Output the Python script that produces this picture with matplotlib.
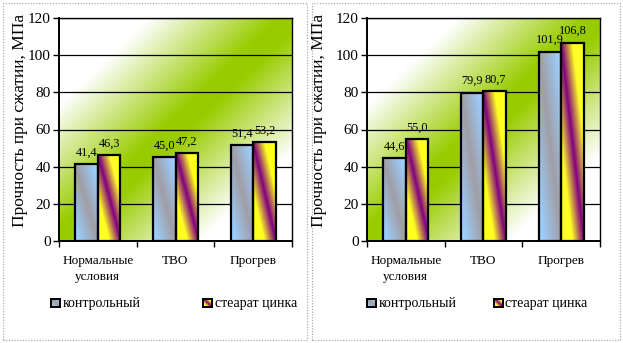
import numpy as np
import matplotlib
matplotlib.use("Agg")
import matplotlib.pyplot as plt
import matplotlib.patches as mpatches
from matplotlib.colors import to_rgb

plt.rcParams['font.family'] = ['Liberation Serif', 'DejaVu Serif']

categories = ['Нормальные\nусловия', 'ТВО', 'Прогрев']
series_names = ['контрольный', 'стеарат цинка']
left_control = [41.4, 45.0, 51.4]
left_stearate = [46.3, 47.2, 53.2]
right_control = [44.6, 79.9, 101.9]
right_stearate = [55.0, 80.7, 106.8]
y_ticks = [0, 20, 40, 60, 80, 100, 120]
y_label = 'Прочность при сжатии, МПа'

GREEN = np.array(to_rgb('#99cc00'))
WHITE = np.array([1.0, 1.0, 1.0])
GRAY = np.array(to_rgb('#a09ea6'))
LBLUE = np.array(to_rgb('#9ccfff'))
PURPLE = np.array(to_rgb('#800080'))
YELLOW = np.array(to_rgb('#ffff20'))


def background_img(n=200):
    xx, yy = np.meshgrid(np.linspace(0, 1, n), np.linspace(0, 1, n))
    d = np.abs(xx - yy)
    t = np.clip((d - 0.06) / 0.55, 0, 1)[..., None]
    return GREEN * (1 - t) + WHITE * t


def bar_img(c_mid, c_side, spread, n=100):
    xx, yy = np.meshgrid(np.linspace(0, 1, n), np.linspace(0, 1, n))
    # band runs from the top-left corner to the bottom-right corner
    d = np.abs(xx + yy - 1)
    t = np.clip(d / spread, 0, 1)[..., None]
    return c_mid * (1 - t) + c_side * t


def fmt(v):
    return f'{v:.1f}'.replace('.', ',')


def draw_panel(ax, control, stearate):
    ax.imshow(background_img(), extent=(0, 1, 0, 1), origin='lower',
              transform=ax.transAxes, aspect='auto', zorder=0,
              interpolation='bilinear')
    x = np.arange(len(categories))
    w = 0.29
    for vals, off, cols in [(control, -w / 2, (GRAY, LBLUE, 0.85)),
                            (stearate, w / 2, (PURPLE, YELLOW, 0.5))]:
        bars = ax.bar(x + off, vals, w, facecolor='none', edgecolor='black',
                      linewidth=1.6, zorder=3)
        for b, v in zip(bars, vals):
            x0, y0 = b.get_x(), b.get_y()
            im = ax.imshow(bar_img(*cols), origin='lower', aspect='auto',
                           extent=(x0, x0 + b.get_width(), y0, y0 + b.get_height()),
                           zorder=2, interpolation='bilinear')
            im.set_clip_path(b)
            ax.annotate(fmt(v), (x0 + b.get_width() / 2, v), xytext=(0, 4),
                        textcoords='offset points', ha='center', va='bottom',
                        fontsize=8.8, zorder=4)
    ax.set_xlim(-0.5, len(categories) - 0.5)
    ax.set_ylim(0, 120)
    ax.set_yticks(y_ticks)
    for yv in y_ticks[1:]:
        ax.axhline(yv, color='black', linewidth=0.9, zorder=1)
    ax.set_xticks(x)
    ax.set_xticklabels(categories, fontsize=9.5, linespacing=1.5)
    ax.tick_params(axis='x', length=0, pad=10)
    ax.set_xticks(np.arange(len(categories) + 1) - 0.5, minor=True)
    ax.tick_params(axis='x', which='minor', length=4, width=1, direction='out')
    ax.tick_params(axis='y', length=4, width=1, labelsize=11, pad=2)
    for s in ax.spines.values():
        s.set_color('black')
        s.set_linewidth(1.0)
    ax.spines['left'].set_linewidth(1.4)
    ax.spines['bottom'].set_linewidth(1.4)


W, H = 623, 343
fig = plt.figure(figsize=(W / 100, H / 100), dpi=100)

panels = [
    (59, left_control, left_stearate, 3, 307, 20, [(51, 63), (203, 215)]),
    (367, right_control, right_stearate, 312, 620, 319, [(367, 379), (494, 505)]),
]

for px0, ctrl, stear, bx0, bx1, lx, leg in panels:
    ax = fig.add_axes([px0 / W, (H - 241) / H, 233 / W, 223 / H])
    draw_panel(ax, ctrl, stear)
    fig.text(lx / W, (H - 120) / H, y_label, rotation=90,
             ha='center', va='center', fontsize=12.5)
    fig.patches.append(mpatches.Rectangle(
        (bx0 / W, 3 / H), (bx1 - bx0) / W, (H - 6) / H, transform=fig.transFigure,
        fill=False, edgecolor='#a0a0a0', linestyle=(0, (1, 1.5)), linewidth=0.8))
    for (mx, tx), name, cols in zip(leg, series_names,
                                    [(GRAY, LBLUE, 0.85), (PURPLE, YELLOW, 0.5)]):
        max_ = fig.add_axes([mx / W, (H - 307) / H, 9 / W, 8.5 / H])
        max_.imshow(bar_img(*cols, n=20), origin='lower', aspect='auto',
                    extent=(0, 1, 0, 1))
        max_.set_xticks([])
        max_.set_yticks([])
        for s in max_.spines.values():
            s.set_linewidth(1.4)
        fig.text(tx / W, (H - 303) / H, name, ha='left', va='center',
                 fontsize=10)

fig.savefig('out.png', dpi=100)
